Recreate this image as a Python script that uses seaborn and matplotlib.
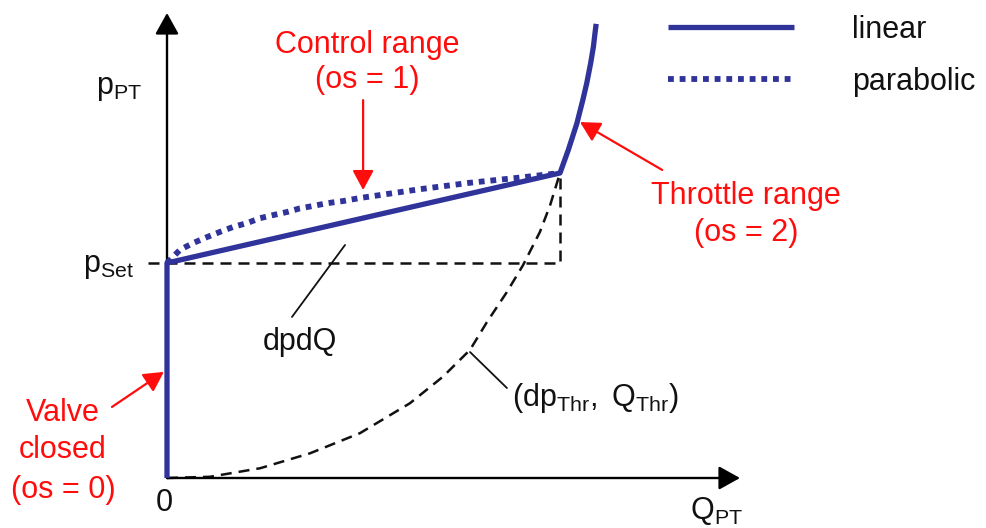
import matplotlib
matplotlib.use("Agg")
import matplotlib.pyplot as plt
import pandas as pd
import seaborn as sns

# Pressure relief valve characteristic (normalised units: knee point at Q=1, p=1)
P_SET = 0.705

valve_Q = [0.0, 0.0]
valve_p = [0.0, P_SET]
control_Q = [0.0, 1.0]
control_p = [P_SET, 1.0]
throttle_Q = [1.0, 1.021, 1.043, 1.058, 1.068, 1.078, 1.085, 1.089, 1.092]
throttle_p = [1.0, 1.075, 1.163, 1.239, 1.294, 1.360, 1.414, 1.458, 1.489]

parabolic_Q = [0.0, 0.033, 0.066, 0.102, 0.135, 0.168, 0.204, 0.237, 0.270,
               0.305, 0.338, 0.372, 0.407, 0.448, 0.491, 0.644, 0.771, 0.898, 1.0]
parabolic_p = [0.705, 0.748, 0.770, 0.790, 0.807, 0.823, 0.836, 0.852, 0.862,
               0.872, 0.884, 0.892, 0.901, 0.908, 0.918, 0.947, 0.968, 0.985, 1.0]

thr_Q = [0.0, 0.109, 0.237, 0.364, 0.491, 0.618, 0.702, 0.771, 0.814,
         0.865, 0.906, 0.949, 0.975, 1.0]
thr_p = [0.0, 0.004, 0.032, 0.081, 0.147, 0.245, 0.332, 0.420, 0.511,
         0.610, 0.698, 0.807, 0.895, 1.0]

legend_labels = ["linear", "parabolic"]

BLUE = "#30339a"
RED = "#ff0d0d"
INK = "#111111"

sns.set_theme(style="white")
plt.rcParams["font.family"] = ["Liberation Sans", "DejaVu Sans"]
plt.rcParams["mathtext.fontset"] = "custom"
plt.rcParams["mathtext.rm"] = "Liberation Sans"
plt.rcParams["mathtext.it"] = "Liberation Sans"

fig = plt.figure(figsize=(9.86, 5.28), dpi=100)
ax = fig.add_axes([0, 0, 1, 1])
ax.set_xlim(-167 / 393, (986 - 167) / 393)
ax.set_ylim(-(528 - 478) / 305, 478 / 305)
ax.axis("off")

FS = 22
DASH = (0, (4.4, 2.8))

# reference lines: set pressure and throttle parabola
ax.plot([-0.048, 1.0, 1.0], [P_SET, P_SET, 1.0], color=INK, lw=1.8,
        ls=DASH, zorder=2)
sns.lineplot(x=thr_Q, y=thr_p, sort=False, estimator=None, ax=ax,
             color=INK, lw=1.8, zorder=2)
ax.lines[-1].set_linestyle(DASH)

# axes with arrow heads
axis_style = dict(arrowstyle="-|>,head_length=0.72,head_width=0.4",
                  color="black", lw=1.7, mutation_scale=18,
                  shrinkA=0, shrinkB=0)
ax.annotate("", xy=(0, (478 - 13) / 305), xytext=(0, 0), arrowprops=axis_style, zorder=3)
ax.annotate("", xy=((740 - 167) / 393, 0), xytext=(0, 0), arrowprops=axis_style, zorder=3)

# characteristic curves
linear = pd.DataFrame({
    "Q": valve_Q + control_Q[1:] + throttle_Q[1:],
    "p": valve_p + control_p[1:] + throttle_p[1:],
})
parab = pd.DataFrame({"Q": parabolic_Q, "p": parabolic_p})

sns.lineplot(data=parab, x="Q", y="p", sort=False, estimator=None, ax=ax,
             color=BLUE, lw=4.2, zorder=4)
h_par = ax.lines[-1]
h_par.set_linestyle((0, (1, 1)))
h_par.set_dash_capstyle("butt")
sns.lineplot(data=linear, x="Q", y="p", sort=False, estimator=None, ax=ax,
             color=BLUE, lw=3.8, zorder=5)
h_lin = ax.lines[-1]
h_lin.set_solid_capstyle("butt")

leg = ax.legend([h_lin, h_par], legend_labels, loc="upper left",
                bbox_to_anchor=(668 / 986, 1 - 15 / 528), frameon=False,
                borderpad=0, borderaxespad=0, fontsize=FS,
                handlelength=126 / 30.6, handletextpad=1.9, labelspacing=0.72)
for t in leg.get_texts():
    t.set_color(INK)

# axis labels
ax.text((142 - 167) / 393, (478 - 88) / 305, r"$\mathrm{p}_{\mathrm{PT}}$",
        ha="right", va="center", fontsize=FS, color=INK)
ax.text((134 - 167) / 393, (478 - 266) / 305, r"$\mathrm{p}_{\mathrm{Set}}$",
        ha="right", va="center", fontsize=FS, color=INK)
ax.text((164 - 167) / 393, (478 - 503) / 305, "0",
        ha="center", va="center", fontsize=FS, color=INK)
ax.text((743 - 167) / 393, (478 - 511) / 305, r"$\mathrm{Q}_{\mathrm{PT}}$",
        ha="right", va="center", fontsize=FS, color=INK)

# operating range annotations
red_arrow = dict(arrowstyle="-|>,head_length=0.8,head_width=0.43",
                 color=RED, lw=1.6, mutation_scale=15, shrinkA=0, shrinkB=0)

ax.text(0.509, 1.42, "Control range", ha="center", va="center", fontsize=FS, color=RED)
ax.text(0.509, 1.305, "(os = 1)", ha="center", va="center", fontsize=FS, color=RED)
ax.annotate("", xy=(0.499, 0.944), xytext=(0.499, 1.239), arrowprops=red_arrow)

ax.text(1.473, 0.925, "Throttle range", ha="center", va="center", fontsize=FS, color=RED)
ax.text(1.473, 0.803, "(os = 2)", ha="center", va="center", fontsize=FS, color=RED)
ax.annotate("", xy=(1.051, 1.167), xytext=(1.26, 1.01), arrowprops=red_arrow)

ax.text(-0.265, 0.213, "Valve", ha="center", va="center", fontsize=FS, color=RED)
ax.text(-0.265, 0.092, "closed", ha="center", va="center", fontsize=FS, color=RED)
ax.text(-0.265, -0.039, "(os = 0)", ha="center", va="center", fontsize=FS, color=RED)
ax.annotate("", xy=(-0.008, 0.348), xytext=(-0.14, 0.233), arrowprops=red_arrow)

# parameter labels with leader lines
ax.plot([0.318, 0.453], [0.528, 0.764], color=INK, lw=1.3)
ax.text(0.338, 0.446, "dpdQ", ha="center", va="center", fontsize=FS, color=INK)

ax.plot([0.771, 0.865], [0.413, 0.295], color=INK, lw=1.3)
ax.text((512 - 167) / 393, (478 - 398) / 305,
        r"$(\mathrm{dp}_{\mathrm{Thr}},\ \mathrm{Q}_{\mathrm{Thr}})$",
        ha="left", va="center", fontsize=FS, color=INK)

fig.savefig("out.png", dpi=100)
